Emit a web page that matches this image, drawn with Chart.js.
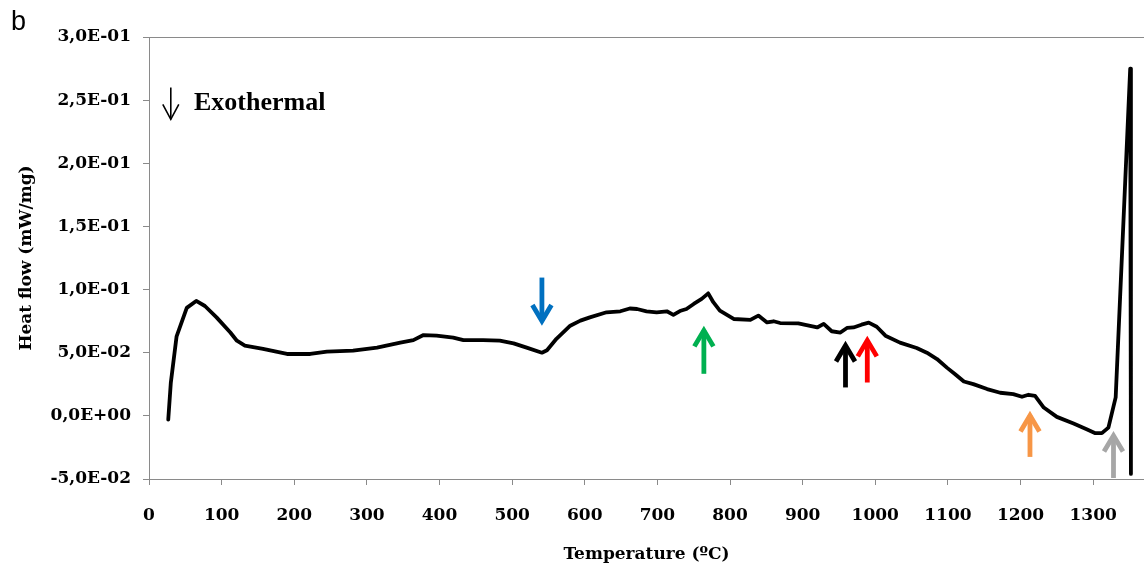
<!DOCTYPE html>
<html>
<head>
<meta charset="utf-8">
<script src="https://cdn.jsdelivr.net/npm/chart.js@4/dist/chart.umd.min.js"></script>
<style>
  html, body { margin: 0; padding: 0; background: #fff; }
  #wrap { width: 1144px; height: 570px; }
</style>
</head>
<body>
<div id="wrap"><canvas id="c" width="1144" height="570"></canvas></div>
<script>
// ---- data ----
const temps = [26.5, 30, 38, 52, 65, 77, 93, 112, 121, 132, 157, 190, 222, 245, 281, 314, 346, 364, 378, 396,
  419, 433, 460, 483, 502, 520, 541, 548, 561, 580, 594, 607, 630, 649, 662, 672, 685, 699, 713, 722,
  731, 740, 750, 761, 770, 777, 786, 805, 828, 839, 851, 860, 869, 894, 920, 929, 940, 952, 961, 970,
  981, 991, 1002, 1014, 1034, 1057, 1071, 1085, 1099, 1110, 1122, 1135, 1154, 1172, 1190, 1202, 1211, 1220, 1232, 1250,
  1273, 1291, 1303, 1312, 1321, 1331, 1351, 1352];
const heatFlow = [-0.003, 0.026, 0.063, 0.0855, 0.091, 0.087, 0.078, 0.066, 0.0595, 0.0556, 0.053, 0.049, 0.049, 0.0508, 0.0516, 0.054, 0.058, 0.060, 0.064, 0.0635,
  0.062, 0.060, 0.060, 0.0595, 0.0574, 0.054, 0.050, 0.052, 0.061, 0.0714, 0.0754, 0.078, 0.082, 0.0828, 0.085, 0.0846, 0.0828, 0.082, 0.0828, 0.080,
  0.083, 0.0846, 0.0886, 0.0926, 0.097, 0.090, 0.0833, 0.0767, 0.076, 0.0794, 0.074, 0.0749, 0.0735, 0.0733, 0.070, 0.0728, 0.067, 0.066, 0.0696, 0.070,
  0.0722, 0.0738, 0.0706, 0.0635, 0.058, 0.0537, 0.050, 0.045, 0.038, 0.033, 0.0272, 0.0251, 0.0212, 0.0183, 0.0172, 0.0151, 0.0167, 0.0159, 0.0066, -0.0008,
  -0.0061, -0.0106, -0.0137, -0.0137, -0.0093, 0.0146, 0.275, -0.046];

const xTicks = [0, 100, 200, 300, 400, 500, 600, 700, 800, 900, 1000, 1100, 1200, 1300];
const yTicks = [-0.05, 0, 0.05, 0.10, 0.15, 0.20, 0.25, 0.30];

// event arrows (temperature, tail value, tip value, colour)
const arrowTemps = [541, 764, 959, 989, 1213, 1328];
const arrowTail  = [0.1095, 0.0333, 0.0225, 0.0264, -0.0325, -0.0492];
const arrowTip   = [0.0714, 0.0714, 0.0595, 0.0635, 0.004, -0.0119];
const arrowColors = ['#0070C0', '#00B050', '#000000', '#FF0000', '#F79646', '#A6A6A6'];

const panelLabel = 'b';
const exoLabel = 'Exothermal';
const exoArrowT = 30, exoArrowFrom = 0.2600, exoArrowTo = 0.2335;
const exoLabelT = 62, exoLabelV = 0.2475;

const AXIS_GRAY = '#8a8a8a';
const TICK_FONT = { family: '"DejaVu Serif"', size: 17, weight: 'bold' };

function fmtSci(v) {
  if (Math.abs(v) < 1e-12) return '0,0E+00';
  const s = v.toExponential(1);
  const [m, e] = s.split('e');
  const ei = parseInt(e, 10);
  const es = (ei < 0 ? '-' : '+') + String(Math.abs(ei)).padStart(2, '0');
  return m.replace('.', ',') + 'E' + es;
}

// yTo is the visible outer tip of the arrow
function drawArrow(ctx, x, yFrom, yTo, color, lw, hw, hh) {
  const dir = Math.sign(yTo - yFrom);
  const half = Math.atan2(hw, hh);
  const miter = (lw / 2) / Math.sin(half);
  const tip = yTo - dir * miter;
  ctx.save();
  ctx.strokeStyle = color;
  ctx.lineWidth = lw;
  ctx.lineCap = 'butt';
  ctx.lineJoin = 'miter';
  ctx.miterLimit = 10;
  ctx.beginPath();
  ctx.moveTo(x, yFrom);
  ctx.lineTo(x, tip);
  ctx.stroke();
  ctx.beginPath();
  ctx.moveTo(x - hw, tip - dir * hh);
  ctx.lineTo(x, tip);
  ctx.lineTo(x + hw, tip - dir * hh);
  ctx.stroke();
  ctx.restore();
}

const annotate = {
  id: 'annotate',
  afterDatasetsDraw(chart) {
    const ctx = chart.ctx;
    const xs = chart.scales.x, ys = chart.scales.y;
    for (let i = 0; i < arrowTemps.length; i++) {
      const px = xs.getPixelForValue(arrowTemps[i]);
      drawArrow(ctx, px, ys.getPixelForValue(arrowTail[i]), ys.getPixelForValue(arrowTip[i]),
        arrowColors[i], 4.8, 9.5, 16);
    }
    const ax = xs.getPixelForValue(exoArrowT);
    drawArrow(ctx, ax, ys.getPixelForValue(exoArrowFrom), ys.getPixelForValue(exoArrowTo), '#000', 1.6, 8, 15);
    ctx.save();
    ctx.fillStyle = '#000';
    ctx.font = 'bold 26px "Liberation Serif"';
    ctx.textBaseline = 'middle';
    ctx.textAlign = 'left';
    ctx.fillText(exoLabel, xs.getPixelForValue(exoLabelT), ys.getPixelForValue(exoLabelV));
    ctx.font = '27px "Liberation Sans"';
    ctx.textBaseline = 'alphabetic';
    ctx.fillText(panelLabel, 11, 30);
    ctx.restore();
  }
};

const points = temps.map((t, i) => ({ x: t, y: heatFlow[i] }));

new Chart(document.getElementById('c'), {
  type: 'line',
  data: {
    datasets: [{
      data: points,
      borderColor: '#000',
      borderWidth: 3.8,
      pointRadius: 0,
      tension: 0,
      fill: false,
      borderJoinStyle: 'round',
      borderCapStyle: 'round'
    }]
  },
  options: {
    responsive: false,
    animation: false,
    devicePixelRatio: 1,
    layout: { padding: { top: 37, right: 0, left: 0, bottom: 0 } },
    plugins: { legend: { display: false }, tooltip: { enabled: false } },
    scales: {
      x: {
        type: 'linear',
        min: 0,
        max: 1370,
        afterBuildTicks: (s) => { s.ticks = xTicks.map(v => ({ value: v })); },
        afterFit: (s) => { s.height = 91; },
        ticks: { color: '#000', font: TICK_FONT, padding: 20, maxRotation: 0, autoSkip: false, callback: (v) => String(Math.round(v)) },
        grid: { drawOnChartArea: false, drawTicks: true, tickLength: 6, tickColor: AXIS_GRAY, color: AXIS_GRAY },
        border: { display: true, color: AXIS_GRAY, width: 1 },
        title: {
          display: true,
          text: 'Temperature (ºC)',
          color: '#000',
          font: { family: '"DejaVu Serif"', size: 17, weight: 'bold' },
          padding: { top: 0, bottom: 5 }
        }
      },
      y: {
        type: 'linear',
        min: -0.05,
        max: 0.30,
        afterBuildTicks: (s) => { s.ticks = yTicks.map(v => ({ value: v })); },
        afterFit: (s) => { s.width = 149; },
        ticks: { color: '#000', font: TICK_FONT, padding: 12, callback: (v) => fmtSci(v) },
        grid: {
          drawTicks: true,
          tickLength: 6,
          tickColor: AXIS_GRAY,
          color: (c) => (c.tick && Math.abs(c.tick.value - 0.30) < 1e-9) ? AXIS_GRAY : 'rgba(0,0,0,0)'
        },
        border: { display: true, color: AXIS_GRAY, width: 1 },
        title: {
          display: true,
          text: 'Heat flow (mW/mg)',
          color: '#000',
          font: { family: '"DejaVu Serif"', size: 17, weight: 'bold' },
          padding: { top: 16, bottom: 0 }
        }
      }
    }
  },
  plugins: [annotate]
});
</script>
</body>
</html>
